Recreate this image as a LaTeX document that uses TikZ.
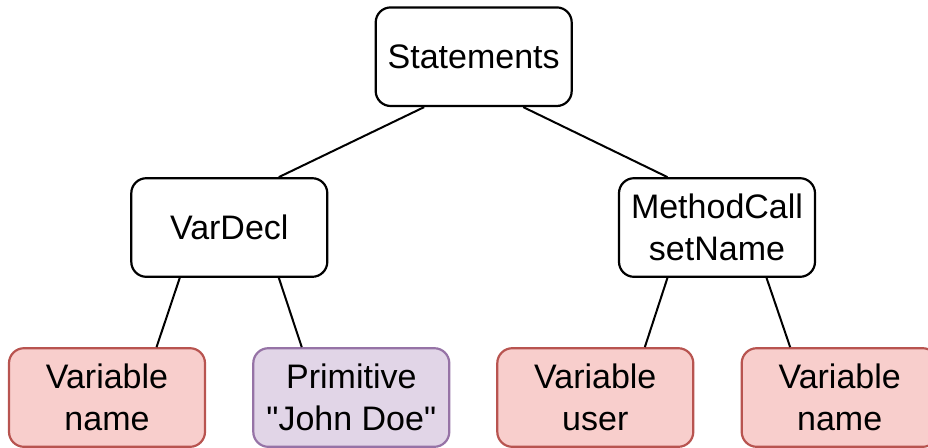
\documentclass[tikz,border=0pt]{standalone}
\usepackage{fontspec}
\setmainfont{Liberation Sans}[Ligatures=TeXOff]
\usetikzlibrary{calc}
\definecolor{redfill}{HTML}{F8CECC}
\definecolor{redline}{HTML}{B85450}
\definecolor{purplefill}{HTML}{E1D5E7}
\definecolor{purpleline}{HTML}{9673A6}
\tikzset{
  treebox/.style={draw=black, line width=1.1pt, rounded corners=7.5pt, fill=white,
    minimum width=98pt, minimum height=49.3pt, inner sep=0pt, align=center,
    font=\fontsize{17}{20.85}\selectfont},
  varbox/.style={treebox, draw=redline, fill=redfill},
  primbox/.style={treebox, draw=purpleline, fill=purplefill},
  link/.style={line width=1pt}
}
\begin{document}
\begin{tikzpicture}[x=0.5pt, y=-0.5pt]
  \useasboundingbox (0,0) rectangle (928,447);
  % tree nodes
  \node[treebox] (st) at (473.7,56.7) {Statements};
  \node[treebox] (vd) at (229.3,227.5) {VarDecl};
  \node[treebox] (mc) at (717,227.5) {MethodCall\\setName};
  \node[varbox]  (v1) at (107,397.5) {Variable\\name};
  \node[primbox] (pr) at (351.3,397.5) {Primitive\\"John Doe"};
  \node[varbox]  (v2) at (595.3,397.5) {Variable\\user};
  \node[varbox]  (v3) at (839.7,397.5) {Variable\\name};
  % parent-child links, attached at quarter points of the box edges
  \draw[link] ($(st.south west)!0.25!(st.south east)$) -- ($(vd.north west)!0.75!(vd.north east)$);
  \draw[link] ($(st.south west)!0.75!(st.south east)$) -- ($(mc.north west)!0.25!(mc.north east)$);
  \draw[link] ($(vd.south west)!0.25!(vd.south east)$) -- ($(v1.north west)!0.75!(v1.north east)$);
  \draw[link] ($(vd.south west)!0.75!(vd.south east)$) -- ($(pr.north west)!0.25!(pr.north east)$);
  \draw[link] ($(mc.south west)!0.25!(mc.south east)$) -- ($(v2.north west)!0.75!(v2.north east)$);
  \draw[link] ($(mc.south west)!0.75!(mc.south east)$) -- ($(v3.north west)!0.25!(v3.north east)$);
\end{tikzpicture}
\end{document}
